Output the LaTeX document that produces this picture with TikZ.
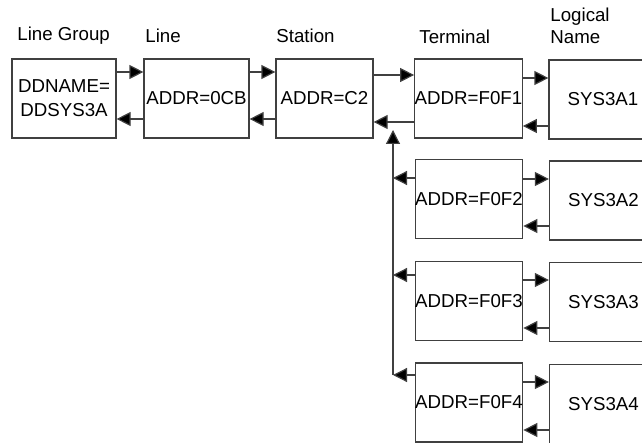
\documentclass[tikz,border=0pt]{standalone}
\usepackage{fontspec}
\setmainfont{Liberation Sans}
\usetikzlibrary{arrows.meta}
\begin{document}
\begin{tikzpicture}[x=0.5pt,y=-0.5pt,
  font=\fontsize{9.35}{12}\selectfont,
  box/.style={draw=black!75,line width=0.6pt,inner sep=0pt,minimum height=39.5pt},
  lbl/.style={anchor=west,inner sep=0pt,align=left},
  arr/.style={draw=black!75,line width=0.6pt,-{Triangle[length=7pt,width=7pt,fill=black]}}]
\useasboundingbox (0,0) rectangle (642,443);
\clip (0,0) rectangle (642,443);
% headers
\node[lbl] (hlg) at (17,36) {Line Group};
\node[lbl] (hl) at (145,36) {Line};
\node[lbl] (hs) at (276,36) {Station};
\node[lbl] (ht) at (419,37) {Terminal};
\node[lbl,font=\fontsize{9.35}{11}\selectfont] (hn) at (550,26) {Logical\\Name};
% boxes
\node[box,minimum width=52pt,align=center] (lg) at (64,98.5) {DDNAME=\\DDSYS3A};
\node[box,minimum width=52.5pt] (ln) at (196.5,98.5) {ADDR=0CB};
\node[box,minimum width=48.5pt] (st) at (324.5,98.5) {ADDR=C2};
\node[box,minimum width=52.5pt] (t1) at (468.5,98.5) {ADDR=F0F1};
\node[box,minimum width=53pt] (t2) at (469,199) {ADDR=F0F2};
\node[box,minimum width=53pt] (t3) at (469,301) {ADDR=F0F3};
\node[box,minimum width=53pt] (t4) at (469,402.5) {ADDR=F0F4};
\node[box,minimum width=54pt] (n1) at (603,99.5) {SYS3A1};
\node[box,minimum width=54pt] (n2) at (603.5,200.5) {SYS3A2};
\node[box,minimum width=54pt] (n3) at (603.5,302) {SYS3A3};
\node[box,minimum width=54pt] (n4) at (603.5,404) {SYS3A4};
% horizontal chain
\draw[arr] (lg.east |- 0,72) -- (ln.west |- 0,72);
\draw[arr] (ln.west |- 0,119) -- (lg.east |- 0,119);
\draw[arr] (ln.east |- 0,72) -- (st.west |- 0,72);
\draw[arr] (st.west |- 0,119) -- (ln.east |- 0,119);
\draw[arr] (st.east |- 0,75) -- (t1.west |- 0,75);
\draw[arr] (t1.west |- 0,122) -- (st.east |- 0,122);
% terminal to logical name
\draw[arr] (t1.east |- 0,78) -- (n1.west |- 0,78);
\draw[arr] (n1.west |- 0,126) -- (t1.east |- 0,126);
\draw[arr] (t2.east |- 0,179) -- (n2.west |- 0,179);
\draw[arr] (n2.west |- 0,226) -- (t2.east |- 0,226);
\draw[arr] (t3.east |- 0,280) -- (n3.west |- 0,280);
\draw[arr] (n3.west |- 0,328) -- (t3.east |- 0,328);
\draw[arr] (t4.east |- 0,382) -- (n4.west |- 0,382);
\draw[arr] (n4.west |- 0,430) -- (t4.east |- 0,430);
% bus
\coordinate (bb) at (393,375);
\coordinate (bt) at (393,130);
\draw[arr] (bb) -- (bt);
\draw[arr] (t2.west |- 0,178) -- (bb |- 0,178);
\draw[arr] (t3.west |- 0,275) -- (bb |- 0,275);
\draw[arr] (t4.west |- 0,375) -- (bb);
\end{tikzpicture}
\end{document}
